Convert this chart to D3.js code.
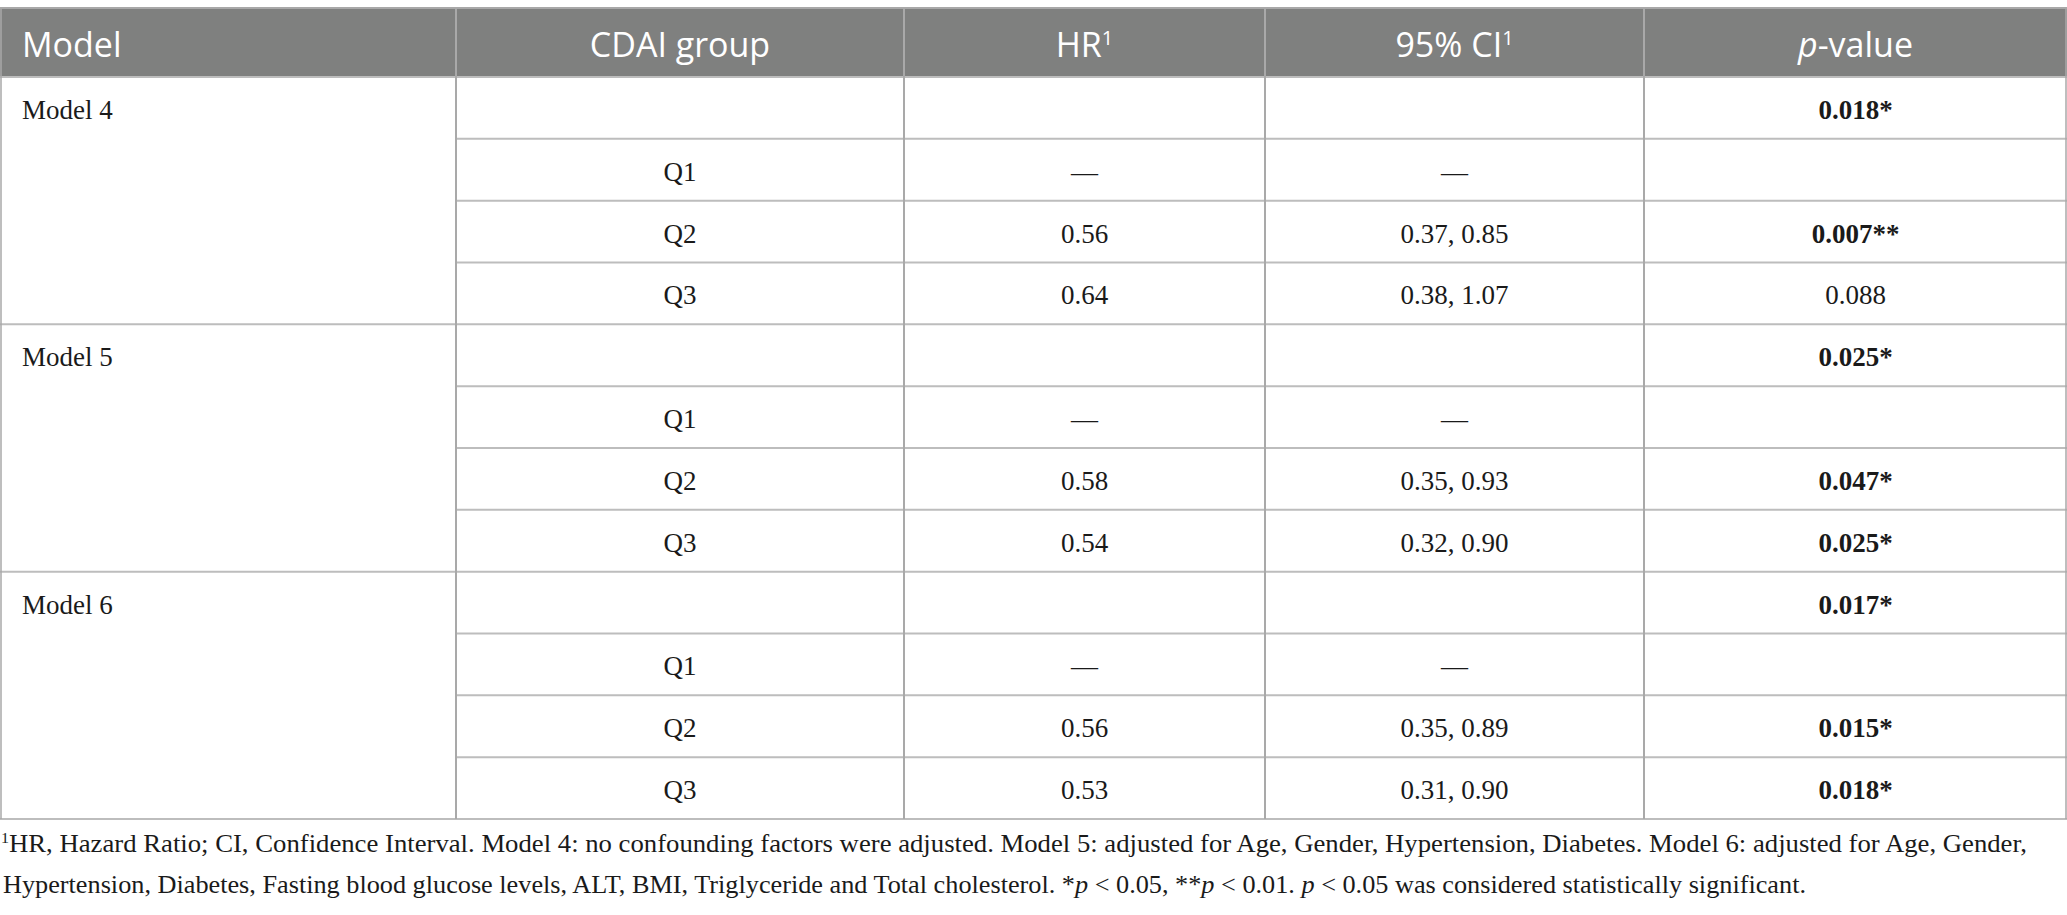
<!DOCTYPE html>
<html>
<head>
<meta charset="utf-8">
<script src="https://cdn.jsdelivr.net/npm/d3@7"></script>
<style>
	body { margin: 0; background: #fff; }
	svg { display: block; }
	.head { font-family: "Open Sans", sans-serif; fill: #fff; }
	.cell { font-family: "Liberation Serif", serif; fill: #1a1a1a; }
	.note { font-family: "Liberation Serif", serif; fill: #1a1a1a; }
</style>
</head>
<body>
<svg id="chart" width="2067" height="915"></svg>
<script>
// table content
var headers = ["Model", "CDAI group", "HR", "95% CI", "p-value"];
var models = ["Model 4", "Model 5", "Model 6"];
var groups = ["", "Q1", "Q2", "Q3"];

// per model: Q2 and Q3 hazard ratios, CI bounds, p-values (Q1 is the reference)
var hrQ2 = [0.56, 0.58, 0.56];
var hrQ3 = [0.64, 0.54, 0.53];
var ciLowQ2 = [0.37, 0.35, 0.35];
var ciHighQ2 = [0.85, 0.93, 0.89];
var ciLowQ3 = [0.38, 0.32, 0.31];
var ciHighQ3 = [1.07, 0.90, 0.90];
var pOverall = [0.018, 0.025, 0.017];
var pQ2 = [0.007, 0.047, 0.015];
var pQ3 = [0.088, 0.025, 0.018];

var footLines = [
	"HR, Hazard Ratio; CI, Confidence Interval. Model 4: no confounding factors were adjusted. Model 5: adjusted for Age, Gender, Hypertension, Diabetes. Model 6: adjusted for Age, Gender,",
	"Hypertension, Diabetes, Fasting blood glucose levels, ALT, BMI, Triglyceride and Total cholesterol. *p < 0.05, **p < 0.01. p < 0.05 was considered statistically significant."
];

var W = 2067;
var tableTop = 8, headBottom = 77, tableBottom = 819;
var colEdges = [0, 456, 904, 1265, 1644, W];
var lineColor = "#bdbdbd";
var headFill = "#7f807f";

var svg = d3.select("#chart");

var fmt2 = d3.format(".2f"), fmt3 = d3.format(".3f");
function stars(p){
	if(p < 0.01) return "**";
	if(p < 0.05) return "*";
	return "";
}

// flatten into rows of cells
var rows = [];
models.forEach(function(m, i){
	groups.forEach(function(g, j){
		var r = {model: j == 0 ? m : "", group: g, hr: "", ci: "", p: null, first: j == 0};
		if(g == "Q1"){ r.hr = "\u2014"; r.ci = "\u2014"; }
		if(g == "Q2"){ r.hr = fmt2(hrQ2[i]); r.ci = fmt2(ciLowQ2[i]) + ", " + fmt2(ciHighQ2[i]); r.p = pQ2[i]; }
		if(g == "Q3"){ r.hr = fmt2(hrQ3[i]); r.ci = fmt2(ciLowQ3[i]) + ", " + fmt2(ciHighQ3[i]); r.p = pQ3[i]; }
		if(g == ""){ r.p = pOverall[i]; }
		rows.push(r);
	});
});

var y = d3.scaleBand().domain(d3.range(rows.length)).range([headBottom, tableBottom]);
var colMid = function(c){ return (colEdges[c] + colEdges[c + 1]) / 2; };

//header band
svg.append("rect")
	.attr("x", 0).attr("y", tableTop)
	.attr("width", W).attr("height", headBottom - tableTop)
	.style("fill", headFill);

var headText = svg.selectAll(".head").data(headers).enter().append("text")
	.attr("class", "head")
	.attr("x", function(d, i){ return i == 0 ? 22 : colMid(i); })
	.attr("y", 57)
	.attr("text-anchor", function(d, i){ return i == 0 ? "start" : "middle"; })
	.style("font-size", "34px");
headText.each(function(d, i){
	var t = d3.select(this);
	if(i == 4){
		t.append("tspan").style("font-style", "italic").text("p");
		t.append("tspan").text("-value");
	} else {
		t.append("tspan").text(d);
		if(i == 2 || i == 3)
			t.append("tspan").attr("dy", -12).style("font-size", "20px").text("1");
	}
});

//grid lines
var g = svg.append("g").style("stroke", lineColor).style("stroke-width", 2);
rows.forEach(function(r, i){
	var yy = y(i) + y.bandwidth();
	var groupEnd = (i % groups.length) == groups.length - 1;
	g.append("line")
		.attr("x1", groupEnd ? 0 : colEdges[1]).attr("x2", W)
		.attr("y1", yy).attr("y2", yy);
});
g.append("line").attr("x1", 0).attr("x2", W).attr("y1", tableTop).attr("y2", tableTop).style("stroke", "#a8a8a8");
g.append("line").attr("x1", 0).attr("x2", W).attr("y1", headBottom).attr("y2", headBottom);
colEdges.forEach(function(x, i){
	var xx = i == 0 ? 1 : (i == colEdges.length - 1 ? W - 1 : x);
	g.append("line")
		.attr("x1", xx).attr("x2", xx)
		.attr("y1", tableTop).attr("y2", tableBottom)
		.style("stroke", function(){ return "#a9a9a9"; })
		.style("stroke-width", i == 0 || i == colEdges.length - 1 ? 1.5 : 2);
});

//body cells
var body = svg.append("g");
rows.forEach(function(r, i){
	var base = y(i) + y.bandwidth() / 2 + 11;
	if(r.model)
		body.append("text").attr("class", "cell").attr("x", 22).attr("y", base)
			.style("font-size", "27px").text(r.model);
	[r.group, r.hr, r.ci].forEach(function(v, c){
		if(!v) return;
		body.append("text").attr("class", "cell")
			.attr("x", colMid(c + 1)).attr("y", base)
			.attr("text-anchor", "middle")
			.style("font-size", "27px").text(v);
	});
	if(r.p != null){
		body.append("text").attr("class", "cell")
			.attr("x", colMid(4)).attr("y", base)
			.attr("text-anchor", "middle")
			.style("font-size", "27px")
			.style("font-weight", r.p < 0.05 ? "bold" : "normal")
			.text(fmt3(r.p) + stars(r.p));
	}
});

//footnote
var note1 = svg.append("text").attr("class", "note").attr("x", 1).attr("y", 852)
	.style("font-size", "25px")
	.attr("textLength", 2026).attr("lengthAdjust", "spacingAndGlyphs");
note1.append("tspan").attr("dy", -9).style("font-size", "15px").text("1");
note1.append("tspan").attr("dy", 9).text(footLines[0]);

var parts = footLines[1].split(/(\*\*p|\*p| p )/);
var note2 = svg.append("text").attr("class", "note").attr("x", 3).attr("y", 893)
	.style("font-size", "25px")
	.attr("textLength", 1803).attr("lengthAdjust", "spacingAndGlyphs");
parts.forEach(function(s){
	if(s == "*p" || s == "**p"){
		note2.append("tspan").text(s.slice(0, -1));
		note2.append("tspan").style("font-style", "italic").text("p");
	} else if(s == " p "){
		note2.append("tspan").text(" ");
		note2.append("tspan").style("font-style", "italic").text("p");
		note2.append("tspan").text(" ");
	} else if(s) {
		note2.append("tspan").text(s);
	}
});
</script>
</body>
</html>
